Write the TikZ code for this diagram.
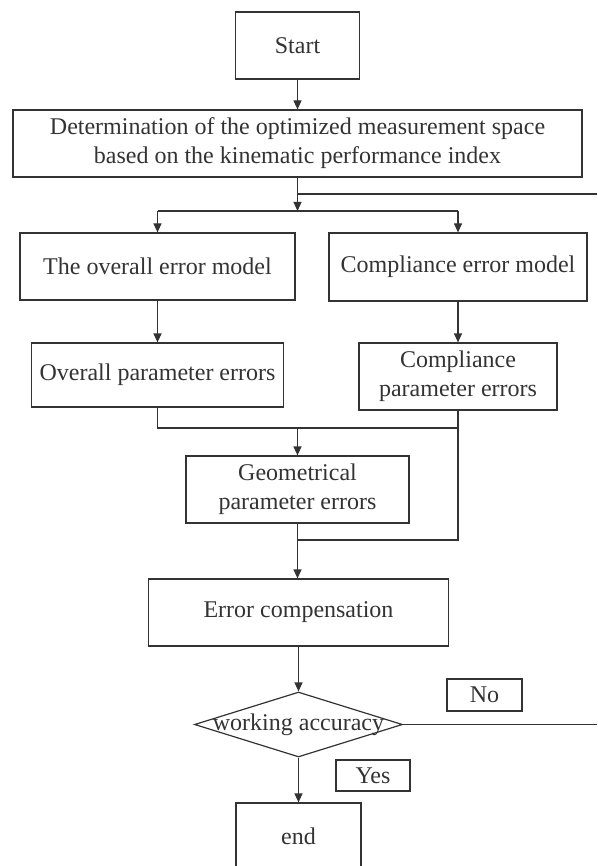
\documentclass[tikz,border=0pt]{standalone}
\usepackage{fontspec}
\setmainfont{Liberation Serif}
\usetikzlibrary{shapes.geometric,arrows.meta}
\definecolor{ink}{HTML}{333333}
\begin{document}
\begin{tikzpicture}[x=1pt,y=-1pt,
  every node/.style={font=\fontsize{24}{29}\selectfont, text=ink},
  box/.style={draw=ink, line width=1.2pt, inner sep=0pt, align=center},
  conn/.style={draw=ink, line width=1.2pt},
  arr/.style={conn, -{Triangle[length=9pt,width=8pt]}}]
\useasboundingbox (0,0) rectangle (597,866);
\clip (0,0) rectangle (597,866);

\node[box, minimum width=124pt, minimum height=67pt] (start) at (297.5,45.5) {Start};
\node[box, minimum width=569pt, minimum height=67pt] (det) at (297.5,143.5)
  {Determination of the optimized measurement space\\based on the kinematic performance index};
\node[box, minimum width=275pt, minimum height=67pt] (om) at (157.5,266.5) {The overall error model};
\node[box, minimum width=258pt, minimum height=68pt] (cm) at (458,267) {Compliance error model};
\node[box, minimum width=252pt, minimum height=64pt] (op) at (157.5,375) {Overall parameter errors};
\node[box, minimum width=198pt, minimum height=67pt] (cp) at (458,376.5) {Compliance\\parameter errors};
\node[box, minimum width=223pt, minimum height=67pt] (geo) at (297.5,489.5) {Geometrical\\parameter errors};
\node[box, minimum width=300pt, minimum height=67pt] (ec) at (298.5,612.5) {Error compensation};
\node[diamond, draw=ink, line width=1.2pt, inner sep=0pt, minimum width=208pt, minimum height=65pt] (dia) at (298.5,724.5) {};
\node (diatext) at (dia.center) {working accuracy};
\node[box, minimum width=75pt, minimum height=32pt] (no) at (484.5,695) {No};
\node[box, minimum width=74pt, minimum height=31pt] (yes) at (373,775.5) {Yes};
\node[box, minimum width=125pt, minimum height=66pt] (end) at (298.5,836) {end};

\coordinate (jL) at (157.5,211);
\coordinate (jR) at (458,211);
\coordinate (tr) at (597,194);
\coordinate (m1) at (297.5,428);
\coordinate (m2) at (297.5,540);
\coordinate (dr) at (597,724.5);

\draw[arr] (start) -- (det);
\draw[arr] (det.south) -- (det.south |- jL);
\draw[conn] (det.south |- tr) -- (tr);
\draw[conn] (jL) -- (jR);
\draw[arr] (jL) -- (om.north);
\draw[arr] (jR) -- (cm.north);
\draw[arr] (om) -- (op);
\draw[arr] (cm) -- (cp);
\draw[conn] (op.south) -- (op.south |- m1) -- (cp.south |- m1);
\draw[conn] (cp.south) -- (cp.south |- m2) -- (m2);
\draw[arr] (m1) -- (geo.north);
\draw[conn] (geo.south) -- (m2);
\draw[arr] (m2) -- (m2 |- ec.north);
\draw[arr] (ec) -- (dia.north);
\draw[arr] (dia.south) -- (end.north);
\draw[conn] (dia.east) -- (dr);
\end{tikzpicture}
\end{document}
